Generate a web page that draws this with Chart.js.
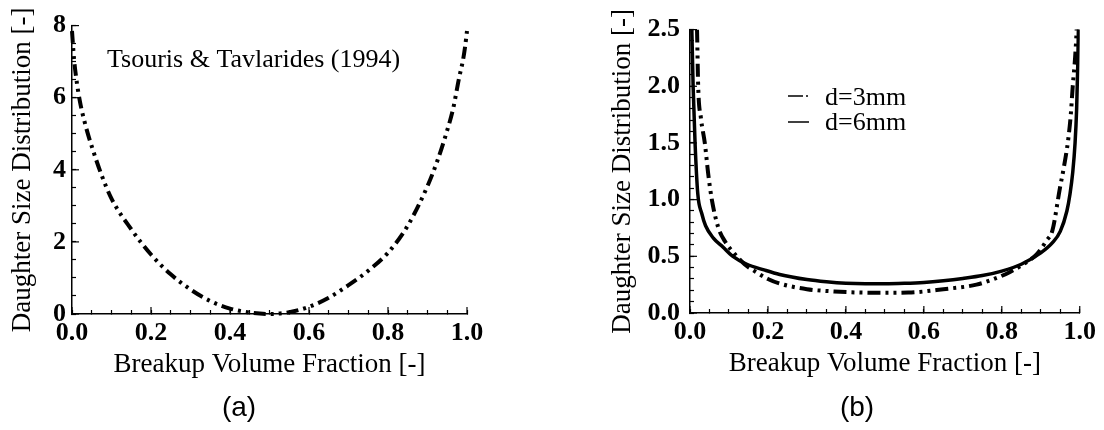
<!DOCTYPE html>
<html>
<head>
<meta charset="utf-8">
<title>Daughter Size Distribution</title>
<script src="https://cdn.jsdelivr.net/npm/chart.js@4.4.1/dist/chart.umd.min.js"></script>
<style>
  html, body { margin: 0; padding: 0; background: #fff; }
  #wrap { position: relative; width: 1104px; height: 430px; }
  .panel { position: absolute; top: 0; width: 552px; height: 430px; }
  #panelA { left: 0; }
  #panelB { left: 552px; }
</style>
</head>
<body>
<div id="wrap">
  <div class="panel" id="panelA"><canvas id="chartA" width="552" height="430"></canvas></div>
  <div class="panel" id="panelB"><canvas id="chartB" width="552" height="430"></canvas></div>
</div>
<script>
// (a) Tsouris & Tavlarides (1994)
const fracA = [0, 0.005, 0.01, 0.02, 0.035, 0.05, 0.075, 0.1, 0.15, 0.2, 0.25, 0.3, 0.35, 0.4, 0.45, 0.5,
               0.55, 0.6, 0.65, 0.7, 0.75, 0.8, 0.85, 0.9, 0.925, 0.95, 0.965, 0.98, 0.99, 0.995, 1.0];
const betaA = [7.85, 7.1, 6.6, 5.9, 5.2, 4.65, 3.85, 3.2, 2.35, 1.65, 1.1, 0.68, 0.36, 0.15, 0.04, 0.0,
               0.05, 0.2, 0.45, 0.8, 1.2, 1.7, 2.45, 3.55, 4.25, 5.1, 5.7, 6.55, 7.05, 7.4, 7.85];

// (b) d = 3mm
const frac3mm = [0.015, 0.018, 0.021, 0.028, 0.038, 0.047, 0.056, 0.072, 0.09, 0.115, 0.14, 0.17, 0.2, 0.23,
                 0.3, 0.37, 0.44, 0.5, 0.56, 0.65, 0.735, 0.78, 0.82, 0.86, 0.89, 0.915, 0.93, 0.949, 0.96,
                 0.97, 0.977, 0.982, 0.988, 0.992, 0.995];
const beta3mm = [2.8, 2.5, 2.0, 1.72, 1.5, 1.22, 1.0, 0.76, 0.63, 0.52, 0.43, 0.36, 0.3, 0.26,
                 0.21, 0.19, 0.18, 0.178, 0.18, 0.21, 0.25, 0.3, 0.36, 0.44, 0.52, 0.64, 0.73, 1.1, 1.3,
                 1.52, 1.75, 2.0, 2.25, 2.5, 2.8];

// (b) d = 6mm
const frac6mm = [0.003, 0.005, 0.008, 0.013, 0.02, 0.03, 0.04, 0.06, 0.085, 0.11, 0.146, 0.19, 0.23, 0.3,
                 0.35, 0.4, 0.45, 0.5, 0.55, 0.6, 0.65, 0.7, 0.75, 0.8, 0.85, 0.9, 0.93, 0.95, 0.967, 0.975,
                 0.982, 0.988, 0.992, 0.995, 0.998];
const beta6mm = [2.8, 2.45, 2.0, 1.5, 1.05, 0.88, 0.77, 0.66, 0.58, 0.5, 0.43, 0.38, 0.34, 0.295,
                 0.275, 0.262, 0.258, 0.258, 0.262, 0.27, 0.285, 0.305, 0.33, 0.37, 0.43, 0.53, 0.62, 0.72, 0.9, 1.05,
                 1.24, 1.5, 1.8, 2.2, 2.8];

const xTitle = 'Breakup Volume Fraction [-]';
const yTitle = 'Daughter Size Distribution [-]';
const legendLabels = ['d=3mm', 'd=6mm'];

Chart.defaults.font.family = "'Liberation Serif', 'Times New Roman', serif";
Chart.defaults.color = '#000';

const dashDotDot = [12, 5, 3, 5, 3, 5];

function pts(xs, ys) {
  return xs.map((x, i) => ({ x: x, y: ys[i] }));
}

function onStep(v, step) {
  return Math.abs(v / step - Math.round(v / step)) < 1e-6;
}

function xAxis() {
  return {
    type: 'linear', min: 0, max: 1,
    border: { display: true, color: '#000', width: 1.5 },
    grid: { drawOnChartArea: false, drawTicks: true, tickLength: -4, tickColor: '#000', tickWidth: 1.2 },
    ticks: {
      stepSize: 0.05, autoSkip: false, maxRotation: 0, padding: 8, color: '#000',
      font: { size: 26, weight: 'bold' },
      callback: v => onStep(v, 0.2) ? v.toFixed(1) : ''
    },
    title: { display: true, text: xTitle, color: '#000', font: { size: 27 }, padding: 0 },
    afterFit: s => { s.height = 67; }
  };
}

function yAxis(max, step, major, fmt, labelPad, titlePad, width) {
  return {
    type: 'linear', min: 0, max: max,
    border: { display: true, color: '#000', width: 1.5 },
    grid: { drawOnChartArea: false, drawTicks: true, tickLength: -4, tickColor: '#000', tickWidth: 1.2 },
    ticks: {
      stepSize: step, autoSkip: false, padding: labelPad, color: '#000',
      font: { size: 26, weight: 'bold' },
      callback: v => onStep(v, major) ? fmt(v) : ''
    },
    title: { display: true, text: yTitle, color: '#000', font: { size: 27 }, padding: { top: titlePad, bottom: 0 } },
    afterFit: s => { s.width = width; }
  };
}

// longer marks at the labelled ticks
const majorTicks = {
  id: 'majorTicks',
  afterDraw(chart) {
    const ctx = chart.ctx;
    ctx.save();
    ctx.strokeStyle = '#000';
    ctx.lineWidth = 1.2;
    Object.values(chart.scales).forEach(scale => {
      scale.ticks.forEach(t => {
        if (!t.label) return;
        const p = scale.getPixelForValue(t.value);
        ctx.beginPath();
        if (scale.isHorizontal()) {
          ctx.moveTo(p, scale.top);
          ctx.lineTo(p, scale.top - 7);
        } else {
          ctx.moveTo(scale.right, p);
          ctx.lineTo(scale.right + 7, p);
        }
        ctx.stroke();
      });
    });
    ctx.restore();
  }
};

// free text: panel caption, annotation, legend
const notes = {
  id: 'notes',
  afterDraw(chart, args, opts) {
    const ctx = chart.ctx;
    ctx.save();
    ctx.fillStyle = '#000';
    ctx.strokeStyle = '#000';
    if (opts.caption) {
      ctx.font = "28px 'Liberation Sans', Arial, sans-serif";
      ctx.textAlign = 'center';
      ctx.textBaseline = 'middle';
      ctx.fillText(opts.caption.text, opts.caption.x, opts.caption.y);
    }
    if (opts.note) {
      ctx.font = "26px 'Liberation Serif', 'Times New Roman', serif";
      ctx.textAlign = 'left';
      ctx.textBaseline = 'alphabetic';
      ctx.fillText(opts.note.text, opts.note.x, opts.note.y);
    }
    if (opts.legend) {
      const lg = opts.legend;
      ctx.font = "26px 'Liberation Serif', 'Times New Roman', serif";
      ctx.textAlign = 'left';
      ctx.textBaseline = 'alphabetic';
      ctx.lineWidth = 1.5;
      // d=3mm: dash + dot
      ctx.beginPath();
      ctx.moveTo(lg.x, lg.y1);
      ctx.lineTo(lg.x + 15, lg.y1);
      ctx.moveTo(lg.x + 18, lg.y1);
      ctx.lineTo(lg.x + 20, lg.y1);
      ctx.stroke();
      ctx.fillText(legendLabels[0], lg.tx, lg.y1 + 9);
      // d=6mm: solid
      ctx.beginPath();
      ctx.moveTo(lg.x, lg.y2);
      ctx.lineTo(lg.x + 21, lg.y2);
      ctx.stroke();
      ctx.fillText(legendLabels[1], lg.tx, lg.y2 + 8);
    }
    ctx.restore();
  }
};

new Chart(document.getElementById('chartA'), {
  type: 'scatter',
  data: {
    datasets: [{
      label: 'Tsouris & Tavlarides (1994)',
      data: pts(fracA, betaA),
      showLine: true,
      borderColor: '#000',
      borderWidth: 4,
      borderDash: dashDotDot,
      borderCapStyle: 'butt',
      cubicInterpolationMode: 'monotone',
      pointRadius: 0,
      clip: false
    }]
  },
  options: {
    responsive: false,
    animation: false,
    layout: { padding: { left: 0, top: 17, right: 85, bottom: 49 } },
    plugins: {
      legend: { display: false },
      tooltip: { enabled: false },
      notes: {
        caption: { text: '(a)', x: 239, y: 408 },
        note: { text: 'Tsouris & Tavlarides (1994)', x: 107, y: 67 }
      }
    },
    scales: {
      x: xAxis(),
      y: yAxis(8, 0.5, 2, v => String(v), 10, 6.8, 72)
    }
  },
  plugins: [majorTicks, notes]
});

new Chart(document.getElementById('chartB'), {
  type: 'scatter',
  data: {
    datasets: [{
      label: legendLabels[0],
      data: pts(frac3mm, beta3mm),
      showLine: true,
      borderColor: '#000',
      borderWidth: 4,
      borderDash: [13, 5, 3, 5, 3, 5],
      borderCapStyle: 'butt',
      cubicInterpolationMode: 'monotone',
      pointRadius: 0
    }, {
      label: legendLabels[1],
      data: pts(frac6mm, beta6mm),
      showLine: true,
      borderColor: '#000',
      borderWidth: 3.5,
      cubicInterpolationMode: 'monotone',
      pointRadius: 0
    }]
  },
  options: {
    responsive: false,
    animation: false,
    layout: { padding: { left: 0, top: 17, right: 24, bottom: 50 } },
    plugins: {
      legend: { display: false },
      tooltip: { enabled: false },
      notes: {
        caption: { text: '(b)', x: 305, y: 408 },
        legend: { x: 236, tx: 273, y1: 96, y2: 122 }
      }
    },
    scales: {
      x: xAxis(),
      y: yAxis(2.5, 0.1, 0.5, v => v.toFixed(1), 14, 54.8, 138)
    }
  },
  plugins: [majorTicks, notes]
});
</script>
</body>
</html>
